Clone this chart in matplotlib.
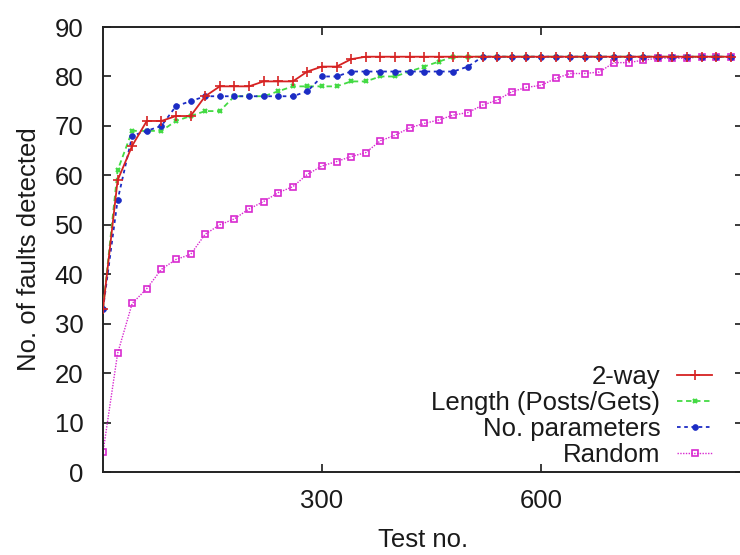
import numpy as np
import matplotlib
matplotlib.use("Agg")
import matplotlib.pyplot as plt

plt.rcParams["font.family"] = ["Liberation Sans", "DejaVu Sans"]

# test number at each sample (every 20 tests)
tests = list(range(0, 861, 20))

two_way = [33, 59, 66, 71, 71, 72, 72, 76, 78, 78, 78, 79, 79, 79, 81, 82, 82, 83.5] + [84] * 26
length_pg = [33, 61, 69, 69, 69, 71, 72, 73, 73, 76, 76, 76, 77, 78, 78, 78, 78, 79, 79, 80, 80, 81,
             82, 83] + [84] * 20
n_params = [33, 55, 68, 69, 70, 74, 75, 76, 76, 76, 76, 76, 76, 76, 77, 80, 80, 81, 81, 81, 81, 81,
            81, 81, 81, 82] + [84] * 18
rnd = [4, 24, 34.1, 37.1, 41, 43, 44, 48.1, 50, 51.2, 53.2, 54.7, 56.5, 57.7, 60.2, 61.9, 62.8, 63.8,
       64.6, 67, 68.1, 69.6, 70.5, 71.2, 72.2, 72.7, 74.2, 75.2, 76.9, 77.8, 78.2, 79.6, 80.6, 80.6,
       80.9, 82.8, 82.8, 83.3, 83.7, 83.7, 83.7, 84, 84, 84]

labels = ["2-way", "Length (Posts/Gets)", "No. parameters", "Random"]
xticks = [300, 600]
yticks = list(range(0, 91, 10))

fs = 18.5
tc = "#1a1a1a"

fig = plt.figure(figsize=(7.4, 5.55), dpi=100)
ax = fig.add_axes([0.1392, 0.1495, 0.865, 0.8018])

ax.plot(tests, two_way, color="#d62222", lw=1.3, marker="+", ms=7, mew=1.2, label=labels[0], zorder=5)
ax.plot(tests, length_pg, color="#44da44", lw=1.3, ls=(0, (3, 2)), marker="x", ms=3.5, mew=1.6,
        label=labels[1], zorder=3)
ax.plot(tests, n_params, color="#1c2cc4", lw=1.3, ls=(0, (2, 2)), marker="o", ms=4.2, mew=0.5,
        label=labels[2], zorder=4)
ax.plot(tests, rnd, color="#d82ad0", lw=1.0, ls=(0, (1, 1)), marker="s", ms=5, mfc="none", mew=1.2,
        label=labels[3], zorder=2)

ax.set_xlim(0, 877)
ax.set_ylim(0, 90)
ax.set_xticks(xticks)
ax.set_yticks(yticks)
ax.tick_params(direction="in", length=6, width=1.2, top=True, right=True, colors=tc, labelsize=fs)
ax.tick_params(axis="y", pad=14)
ax.tick_params(axis="x", pad=12)
for s in ax.spines.values():
    s.set_linewidth(1.4)
    s.set_color("#222222")

ax.set_xlabel("Test no.", fontsize=fs, color=tc, labelpad=11)
ax.set_ylabel("No. of faults detected", fontsize=fs, color=tc, labelpad=10)

leg = ax.legend(loc="lower right", bbox_to_anchor=(0.952, 0.012), borderaxespad=0, frameon=False,
                markerfirst=False, fontsize=fs, handlelength=1.36, handletextpad=0.66,
                labelspacing=0.08, numpoints=1, borderpad=0)
for t in leg.get_texts():
    t.set_color(tc)

fig.savefig("out.png", dpi=100)
